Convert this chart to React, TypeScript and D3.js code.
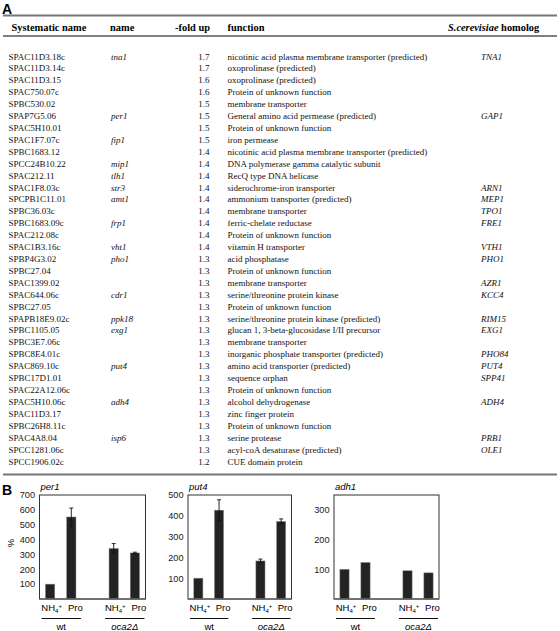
import React from 'react';
import * as d3 from 'd3';

const systematicNames = [
  'SPAC11D3.18c','SPAC11D3.14c','SPAC11D3.15','SPAC750.07c','SPBC530.02','SPAP7G5.06','SPAC5H10.01','SPAC1F7.07c',
  'SPBC1683.12','SPCC24B10.22','SPAC212.11','SPAC1F8.03c','SPCPB1C11.01','SPBC36.03c','SPBC1683.09c','SPAC212.08c',
  'SPAC1B3.16c','SPBP4G3.02','SPBC27.04','SPAC1399.02','SPAC644.06c','SPBC27.05','SPAPB18E9.02c','SPBC1105.05',
  'SPBC3E7.06c','SPBC8E4.01c','SPAC869.10c','SPBC17D1.01','SPAC22A12.06c','SPAC5H10.06c','SPAC11D3.17','SPBC26H8.11c',
  'SPAC4A8.04','SPCC1281.06c','SPCC1906.02c',
];
const geneNames = [
  'tna1','','','','','per1','','fip1',
  '','mip1','tlh1','str3','amt1','','frp1','',
  'vht1','pho1','','','cdr1','','ppk18','exg1',
  '','','put4','','','adh4','','',
  'isp6','','',
];
const foldUp = [
  1.7,1.7,1.6,1.6,1.5,1.5,1.5,1.5,
  1.4,1.4,1.4,1.4,1.4,1.4,1.4,1.4,
  1.4,1.3,1.3,1.3,1.3,1.3,1.3,1.3,
  1.3,1.3,1.3,1.3,1.3,1.3,1.3,1.3,
  1.3,1.3,1.2,
];
const functions = [
  'nicotinic acid plasma membrane transporter (predicted)','oxoprolinase (predicted)','oxoprolinase (predicted)',
  'Protein of unknown function','membrane transporter','General amino acid permease (predicted)',
  'Protein of unknown function','iron permease','nicotinic acid plasma membrane transporter (predicted)',
  'DNA polymerase gamma catalytic subunit','RecQ type DNA helicase','siderochrome-iron transporter',
  'ammonium transporter (predicted)','membrane transporter','ferric-chelate reductase','Protein of unknown function',
  'vitamin H transporter','acid phosphatase','Protein of unknown function','membrane transporter',
  'serine/threonine protein kinase','Protein of unknown function','serine/threonine protein kinase (predicted)',
  'glucan 1, 3-beta-glucosidase I/II precursor','membrane transporter','inorganic phosphate transporter (predicted)',
  'amino acid transporter (predicted)','sequence orphan','Protein of unknown function','alcohol dehydrogenase',
  'zinc finger protein','Protein of unknown function','serine protease','acyl-coA desaturase (predicted)',
  'CUE domain protein',
];
const homologs = [
  'TNA1','','','','','GAP1','','',
  '','','','ARN1','MEP1','TPO1','FRE1','',
  'VTH1','PHO1','','AZR1','KCC4','','RIM15','EXG1',
  '','PHO84','PUT4','SPP41','','ADH4','','',
  'PRB1','OLE1','',
];

const chartGenes = ['per1', 'put4', 'adh1'];
const slots = ['wt-NH4', 'wt-Pro', 'gap', 'oca-NH4', 'oca-Pro'];
const barSlots = ['wt-NH4', 'wt-Pro', 'oca-NH4', 'oca-Pro'];
const media = ['NH4', 'Pro', 'NH4', 'Pro'];
const strains = ['wt', 'oca2Δ'];
const per1Values = [100, 552, 340, 310];
const per1Errors = [0, 60, 33, 5];
const put4Values = [100, 427, 183, 373];
const put4Errors = [0, 50, 9, 12];
const adh1Values = [100, 123, 95, 88];
const adh1Errors = [0, 0, 0, 0];
const yMaxes = [700, 500, 350];
const per1Ticks = [100, 200, 300, 400, 500, 600, 700];
const put4Ticks = [100, 200, 300, 400, 500];
const adh1Ticks = [100, 200, 300];

const serif = '"Liberation Serif", "Times New Roman", serif';
const sans = '"Liberation Sans", Arial, sans-serif';

function Table() {
  const rowY = d3.scaleLinear().domain([0, systematicNames.length - 1]).range([59.5, 464.5]);
  const col = { sys: 8.5, name: 111, fold: 209.5, func: 227.5, hom: 481 };
  return (
    <g>
      <text x={2} y={14} fontFamily={sans} fontWeight="bold" fontSize={14}>A</text>
      <line x1={3} x2={557} y1={15.5} y2={15.5} stroke="#777" strokeWidth={2} />
      <g fontFamily={serif} fontWeight="bold" fontSize={10.4}>
        <text x={11.5} y={31}>Systematic name</text>
        <text x={110} y={31}>name</text>
        <text x={210} y={31} textAnchor="end">-fold up</text>
        <text x={227.5} y={31}>function</text>
        <text x={448} y={31}><tspan fontStyle="italic">S.cerevisiae</tspan> homolog</text>
      </g>
      <line x1={3} x2={557} y1={36} y2={36} stroke="#000" strokeWidth={1} />
      <g fontFamily={serif} fontSize={9} fill="#111">
        {systematicNames.map((s, i) => (
          <g key={s}>
            <text x={col.sys} y={rowY(i)}>{s}</text>
            {geneNames[i] && <text x={col.name} y={rowY(i)} fontStyle="italic">{geneNames[i]}</text>}
            <text x={col.fold} y={rowY(i)} textAnchor="end">{d3.format('.1f')(foldUp[i])}</text>
            <text x={col.func} y={rowY(i)}>{functions[i]}</text>
            {homologs[i] && <text x={col.hom} y={rowY(i)} fontStyle="italic">{homologs[i]}</text>}
          </g>
        ))}
      </g>
      <line x1={3} x2={557} y1={474.5} y2={474.5} stroke="#777" strokeWidth={2} />
    </g>
  );
}

function BarChart({ x0, width, gene, values, errors, yMax, ticks, showPct }: any) {
  const top = 495;
  const bottom = 599;
  const y = d3.scaleLinear().domain([0, yMax]).range([bottom, top]);
  const x = d3.scaleBand().domain(slots).range([x0, x0 + width]).padding(0);
  const bw = x.bandwidth() * 0.44;
  return (
    <g>
      <text x={x0 + 1} y={490} fontFamily={sans} fontStyle="italic" fontSize={9.5}>{gene}</text>
      {ticks.map((t: number) => (
        <text key={t} x={x0 - 4.5} y={y(t) + 3.3} textAnchor="end" fontFamily={sans} fontSize={9.2} fill="#222">{t}</text>
      ))}
      {showPct && (
        <text transform={`translate(14,${(top + bottom) / 2 - 4}) rotate(-90)`} textAnchor="middle" fontFamily={sans} fontSize={9.5}>%</text>
      )}
      {barSlots.map((s, i) => {
        const cx = (x(s) as number) + x.bandwidth() / 2;
        return (
          <g key={s}>
            <rect x={cx - bw / 2} y={y(values[i])} width={bw} height={bottom - y(values[i])} fill="#232323" stroke="#8a8a8a" strokeWidth={0.5} />
            {errors[i] > 0 && (
              <g stroke="#111" strokeWidth={0.9}>
                <line x1={cx} x2={cx} y1={y(values[i] + errors[i])} y2={y(values[i] - errors[i])} />
                <line x1={cx - 2} x2={cx + 2} y1={y(values[i] + errors[i])} y2={y(values[i] + errors[i])} />
                <line x1={cx - 2} x2={cx + 2} y1={y(values[i] - errors[i])} y2={y(values[i] - errors[i])} />
              </g>
            )}
            <text x={cx + (i % 2 === 0 ? 1.5 : 4)} y={611} textAnchor="middle" fontFamily={sans} fontSize={9.5}>
              {media[i] === 'NH4' ? (
                <>NH<tspan fontSize={6} dy={2}>4</tspan><tspan fontSize={6} dy={-5.5}>+</tspan></>
              ) : media[i]}
            </text>
          </g>
        );
      })}
      <rect x={x0} y={top} width={width} height={bottom - top} fill="none" stroke="#333" strokeWidth={1} />
      <line x1={x0} x2={x0 + width} y1={bottom} y2={bottom} stroke="#666" strokeWidth={1.5} />
      {strains.map((st, gi) => {
        const a = (x(barSlots[gi * 2]) as number) + 2;
        const b = (x(barSlots[gi * 2 + 1]) as number) + x.bandwidth() - 1;
        return (
          <g key={st}>
            <line x1={a} x2={b} y1={618.5} y2={618.5} stroke="#111" strokeWidth={1} />
            <text x={(a + b) / 2} y={630} textAnchor="middle" fontFamily={sans} fontSize={9.5} fontStyle={gi === 1 ? 'italic' : 'normal'}>{st}</text>
          </g>
        );
      })}
    </g>
  );
}

export default function App() {
  const panels = [
    { x0: 39.5, width: 106, values: per1Values, errors: per1Errors, ticks: per1Ticks },
    { x0: 188, width: 103.5, values: put4Values, errors: put4Errors, ticks: put4Ticks },
    { x0: 334, width: 105, values: adh1Values, errors: adh1Errors, ticks: adh1Ticks },
  ];
  return (
    <svg width={560} height={631} style={{ position: 'absolute', left: 0, top: 0, background: '#fff' }}>
      <rect width={560} height={631} fill="#fff" />
      <Table />
      <text x={2} y={495} fontFamily={sans} fontWeight="bold" fontSize={14}>B</text>
      {panels.map((p, i) => (
        <BarChart key={chartGenes[i]} gene={chartGenes[i]} yMax={yMaxes[i]} showPct={i === 0} {...p} />
      ))}
    </svg>
  );
}
